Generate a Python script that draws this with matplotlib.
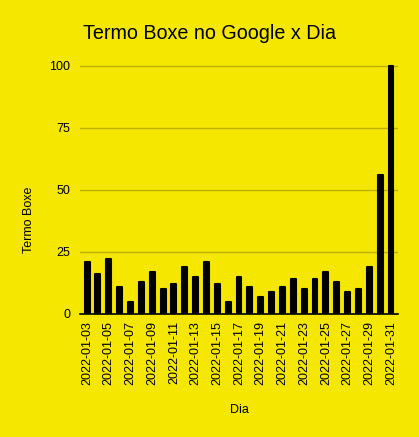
import numpy as np
import matplotlib.pyplot as plt

#%% Data

dias = ['2022-01-%02d' % d for d in range(3, 32)]
buscas = [21, 16, 22, 11, 5, 13, 17, 10, 12, 19, 15, 21, 12, 5, 15,
          11, 7, 9, 11, 14, 10, 14, 17, 13, 9, 10, 19, 56, 100]
yticks = [0, 25, 50, 75, 100]

#%% Style

plt.rcParams['font.family'] = ['Liberation Sans', 'DejaVu Sans']
fundo = '#F5E700'
grade = '#BDB000'

fig = plt.figure(figsize=(4.19, 4.37), dpi=100, facecolor=fundo)
ax = fig.add_axes([0.191, 0.2815, 0.759, 0.579], facecolor=fundo)

x = np.arange(len(dias))
#thick round-joined edge gives the bars their rounded tops
ax.bar(x, buscas, width=0.45, color='black', edgecolor='black',
       linewidth=1.5, joinstyle='round', zorder=3)

ax.set_xlim(-0.65, len(dias) - 0.35)
ax.set_ylim(0, 102)
ax.set_yticks(yticks)
ax.set_xticks(x[::2])
ax.set_xticklabels(dias[::2], rotation=90, fontsize=9)
ax.tick_params(axis='y', labelsize=9, length=0, pad=7)
ax.tick_params(axis='x', length=0, pad=5)
ax.grid(axis='y', color=grade, linewidth=1, zorder=0)

for s in ['top', 'right', 'left']:
    ax.spines[s].set_visible(False)
ax.spines['bottom'].set_color('black')
ax.spines['bottom'].set_linewidth(1.2)
ax.spines['bottom'].set_zorder(4)

ax.set_ylabel('Termo Boxe', fontsize=9, va='center')
ax.yaxis.set_label_coords(-0.16, 0.372)
ax.set_xlabel('Dia', fontsize=9, va='center')
ax.xaxis.set_label_coords(0.5, -0.38)
fig.text(0.5, 0.924, 'Termo Boxe no Google x Dia', ha='center', va='center',
         fontsize=14.2)

plt.savefig('out.png', dpi=100, facecolor=fundo)
